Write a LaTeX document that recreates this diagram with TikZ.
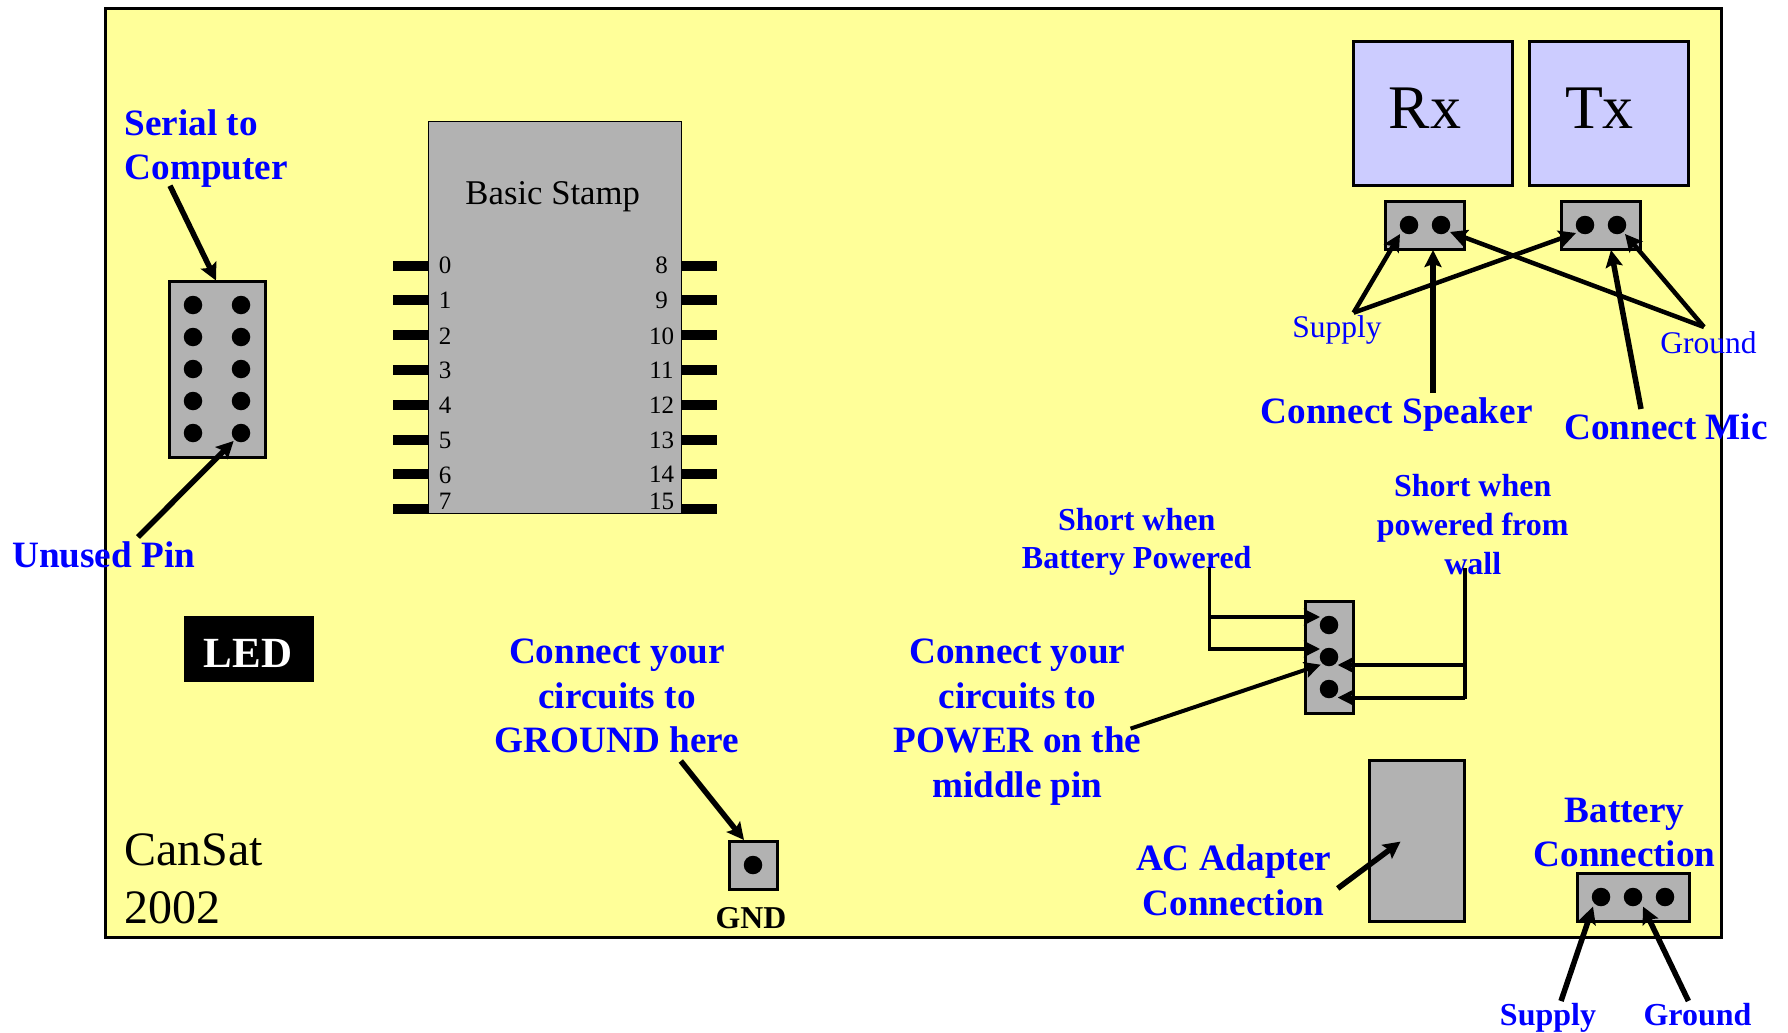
\documentclass[tikz,border=0pt]{standalone}
\usepackage{fontspec}
\setmainfont{Liberation Serif}
\usetikzlibrary{arrows.meta}
\definecolor{board}{HTML}{FFFF99}
\definecolor{lilac}{HTML}{CCCCFF}
\definecolor{chip}{HTML}{B2B2B2}
\definecolor{labelblue}{HTML}{0000FF}
\tikzset{
  x=1pt,y=-1pt,
  plate/.style={draw=black,line width=3pt,fill=#1,inner sep=0pt,outer sep=0pt},
  pad/.style={circle,fill=black,inner sep=0pt,outer sep=0pt,minimum size=18.5pt},
  pinbar/.style={rectangle,fill=black,inner sep=0pt,outer sep=0pt,minimum width=36pt,minimum height=10pt},
  txt/.style={inner sep=0pt,outer sep=0pt,anchor=base,align=center,text depth=0pt},
  numtxt/.style={txt,font=\fontsize{25}{30}\selectfont},
  bl37/.style={txt,text=labelblue,font=\bfseries\fontsize{37.2}{44.5}\selectfont},
  bl32/.style={txt,text=labelblue,font=\bfseries\fontsize{32}{38.6}\selectfont},
  thick arrow/.style={line width=5.5pt,-{Stealth[length=17pt,width=17pt,inset=3pt]}},
  mid arrow/.style={line width=4.5pt,-{Stealth[length=17pt,width=17pt,inset=3pt]}},
  thin arrow/.style={line width=4pt,-{Stealth[length=16pt,width=16pt,inset=3pt]}},
  plain wire/.style={line width=3.5pt,line cap=rect},
}
\begin{document}
\begin{tikzpicture}
\useasboundingbox (0,0) rectangle (1788,1033);
% board
\node[plate=board,minimum width=1616pt,minimum height=928pt] (boardrect) at (913,473) {};

% Rx / Tx
\node[plate=lilac,minimum width=159.5pt,minimum height=144pt] (rxbox) at (1433,113.5) {};
\node[plate=lilac,minimum width=159pt,minimum height=144pt] (txbox) at (1609,113.5) {};
\node[txt,font=\fontsize{62}{70}\selectfont] (rxtext) at (1425,128.7) {Rx};
\node[txt,font=\fontsize{62}{70}\selectfont] (txtext) at (1599.5,128.7) {Tx};
\node[plate=chip,minimum width=79pt,minimum height=48pt] (rxhdr) at (1425,225.5) {};
\node[plate=chip,minimum width=79pt,minimum height=48pt] (txhdr) at (1601,225.5) {};
\node[pad] (rxa) at (1409,225) {};
\node[pad] (rxb) at (1441,225) {};
\node[pad] (txa) at (1585,225) {};
\node[pad] (txb) at (1617,225) {};

% Basic Stamp
\node[rectangle,fill=chip,draw=black,line width=1pt,minimum width=253.5pt,minimum height=392pt,inner sep=0pt,outer sep=0pt] (stamp) at (555.2,317.5) {};
\node[txt,font=\fontsize{34.7}{40}\selectfont] (stamptitle) at (552.7,204) {Basic Stamp};
\foreach \n/\yb/\yt/\yr/\lab in {0/265.6/273.9/273.9/8,1/300.4/308.7/308.7/9,2/335.2/344/344/10,3/370/378.6/378.6/11,4/404.7/413/413/12,5/439.5/448/448/13,6/474.3/483.4/482.6/14,7/509/509/509/15}{
  \node[pinbar] (pl\n) at (411,\yb) {};
  \node[pinbar] (pr\n) at (699,\yb) {};
  \node[numtxt] (nl\n) at (445,\yt) {\n};
  \node[numtxt] (nr\n) at (661.5,\yr) {\lab};
}

% Serial header
\node[plate=chip,minimum width=96.5pt,minimum height=176pt] (serial) at (217.3,369) {};
\foreach \r/\yy in {1/305,2/337,3/369,4/401,5/433}{
  \node[pad] (sa\r) at (193,\yy) {};
  \node[pad] (sb\r) at (241,\yy) {};
}
\node[txt,text=labelblue,font=\bfseries\fontsize{37.2}{44.5}\selectfont,anchor=base west,align=left] (serialtext) at (124.6,179.5) {Serial to\\Computer};
\node[bl37] (unusedtext) at (103.7,567.5) {Unused Pin};

% LED
\node[rectangle,fill=black,inner sep=0pt,minimum width=130pt,minimum height=66pt] (ledbox) at (249,649) {};
\node[txt,text=white,font=\bfseries\fontsize{43}{48}\selectfont] (ledtext) at (248,667.5) {LED};

% Ground pad
\node[plate=chip,minimum width=48.5pt,minimum height=48pt] (gndhdr) at (753.3,865) {};
\node[pad] (gnddot) at (753,865) {};
\node[txt,font=\bfseries\fontsize{31.8}{36}\selectfont] (gndtext) at (751,928) {GND};
\node[bl37] (grtext) at (617,752.7) {Connect your\\circuits to\\GROUND here};
\node[txt,font=\fontsize{48}{58.5}\selectfont,anchor=base west,align=left] (cansat) at (124,923.5) {CanSat\\2002};

% Power jumper
\node[plate=chip,minimum width=48pt,minimum height=112.5pt] (jumper) at (1329,657.3) {};
\node[pad] (ja) at (1329,625) {};
\node[pad] (jb) at (1329,657) {};
\node[pad] (jc) at (1329,689) {};
\node[bl37] (powertext) at (1017.3,797) {Connect your\\circuits to\\POWER on the\\middle pin};
\node[bl32] (battshort) at (1136.7,568.6) {Short when\\Battery Powered};
\node[bl32] (wallshort) at (1472.7,574) {Short when\\powered from\\wall};

% AC and battery
\node[plate=chip,minimum width=95pt,minimum height=160.8pt] (acblock) at (1417,841.2) {};
\node[bl37] (actext) at (1233.7,915.3) {AC Adapter\\Connection};
\node[bl37] (batttext) at (1624.6,866.8) {Battery\\Connection};
\node[plate=chip,minimum width=112pt,minimum height=48pt] (batthdr) at (1633,897) {};
\node[pad] (ba) at (1601,897) {};
\node[pad] (bb) at (1633,897) {};
\node[pad] (bc) at (1665,897) {};
\node[bl32] (bsup) at (1548,1025.5) {Supply};
\node[bl32] (bgnd) at (1697.5,1025.5) {Ground};

% Top right labels
\node[txt,text=labelblue,font=\fontsize{31.5}{34}\selectfont] (supsmall) at (1337,337.7) {Supply};
\node[txt,text=labelblue,font=\fontsize{31.5}{34}\selectfont] (gndsmall) at (1708.5,353) {Ground};
\node[bl37] (spk) at (1396.7,423.5) {Connect Speaker};
\node[bl37] (mic) at (1666,439.3) {Connect Mic};

% connector end points
\coordinate (supO) at (1353.6,312.7);
\coordinate (gndO) at (1704,327);
\coordinate (supRx) at (1400,234);
\coordinate (supTx) at (1576,233);
\coordinate (gndRx) at (1450,232);
\coordinate (gndTx) at (1625,234);
\coordinate (spkO) at (1433,393);
\coordinate (spkT) at (1433,250);
\coordinate (micO) at (1641,409);
\coordinate (micT) at (1611,250);
\coordinate (serO) at (170,185.7);
\coordinate (serT) at (216,280.5);
\coordinate (unO) at (138,537);
\coordinate (unT) at (233.6,441);
\coordinate (grO) at (680.8,761);
\coordinate (grT) at (744,840);
\coordinate (lv1) at (1209.5,569);
\coordinate (lv2) at (1209.5,617);
\coordinate (lv3) at (1209.5,649);
\coordinate (rv1) at (1465,569.6);
\coordinate (rv2) at (1465,665);
\coordinate (rv3) at (1465,697.6);
\coordinate (jl1) at (1320,617);
\coordinate (jl2) at (1320,649);
\coordinate (jr1) at (1337.7,665);
\coordinate (jr2) at (1337.7,697.6);
\coordinate (pwO) at (1130.6,728.6);
\coordinate (pwT) at (1320.6,664.7);
\coordinate (acO) at (1337.7,888.4);
\coordinate (acT) at (1400.5,841.6);
\coordinate (bsO) at (1561,1001);
\coordinate (bsT) at (1593,906.6);
\coordinate (bgO) at (1688.4,1001);
\coordinate (bgT) at (1643,906.6);

% connectors
\draw[mid arrow] (supO) -- (supRx);
\draw[mid arrow] (supO) -- (supTx);
\draw[mid arrow] (gndO) -- (gndRx);
\draw[mid arrow] (gndO) -- (gndTx);
\draw[thick arrow] (spkO) -- (spkT);
\draw[thick arrow] (micO) -- (micT);
\draw[thick arrow] (serO) -- (serT);
\draw[thick arrow] (unO) -- (unT);
\draw[thick arrow] (grO) -- (grT);
\draw[plain wire] (lv1) -- (lv3);
\draw[plain wire] (rv1) -- (rv3);
\draw[thin arrow] (lv2) -- (jl1);
\draw[thin arrow] (lv3) -- (jl2);
\draw[thin arrow] (rv2) -- (jr1);
\draw[thin arrow] (rv3) -- (jr2);
\draw[thin arrow] (pwO) -- (pwT);
\draw[thick arrow] (acO) -- (acT);
\draw[thick arrow] (bsO) -- (bsT);
\draw[thick arrow] (bgO) -- (bgT);
\end{tikzpicture}
\end{document}
